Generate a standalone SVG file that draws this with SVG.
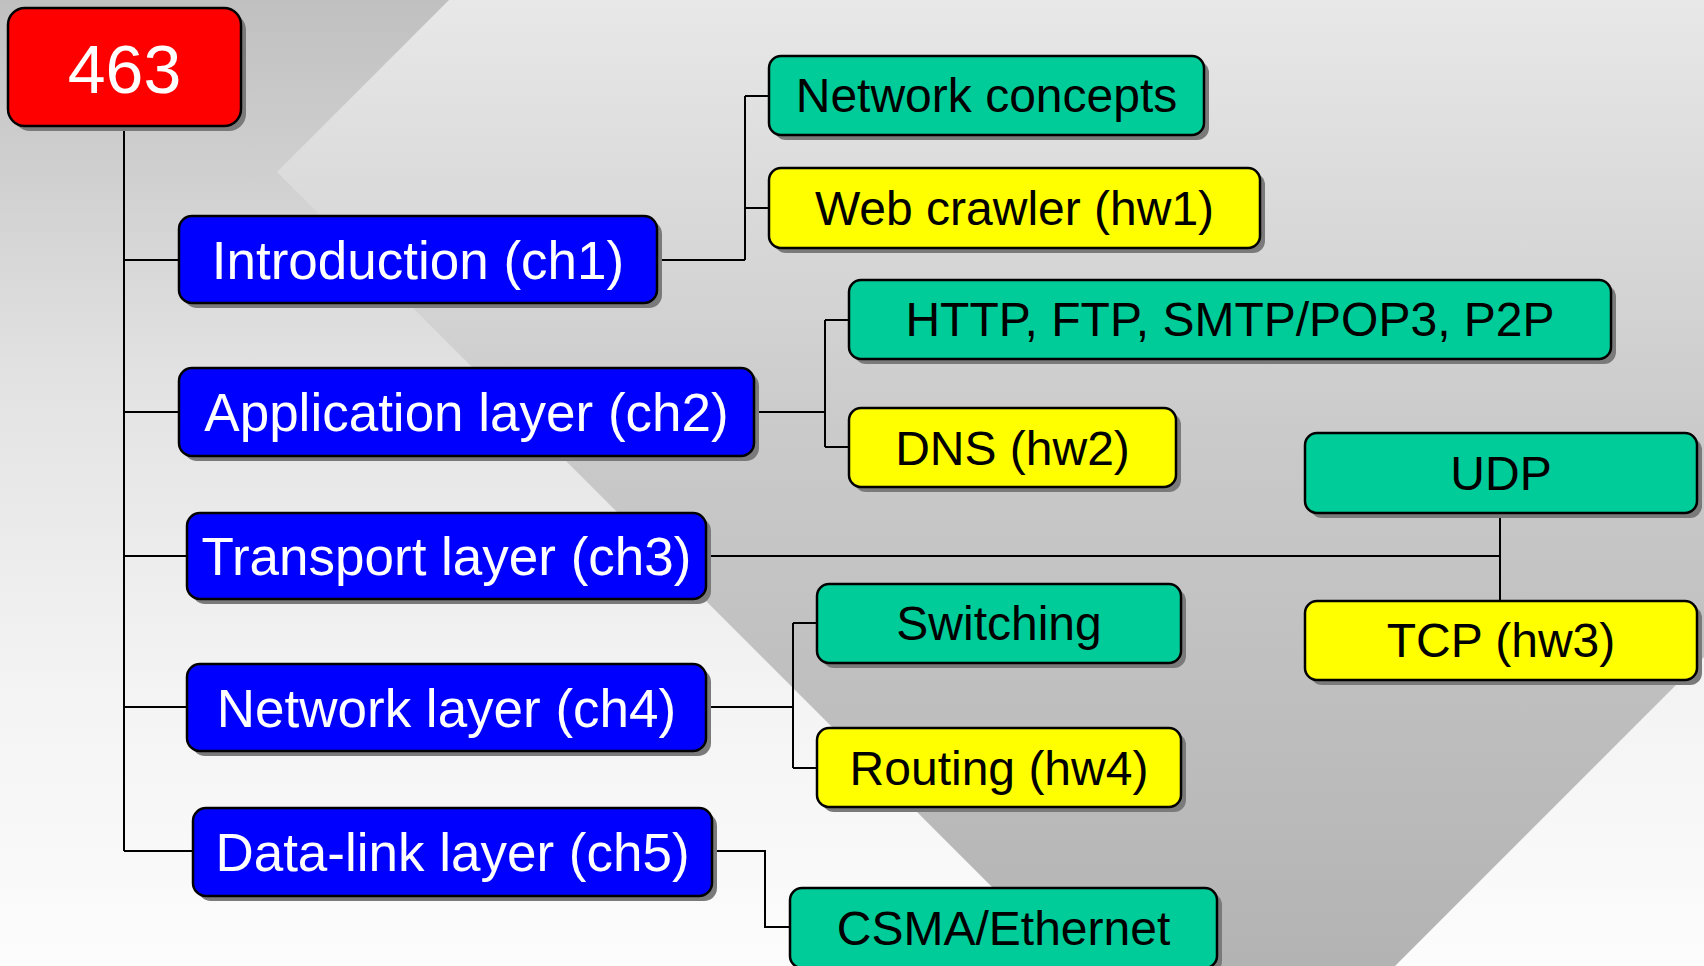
<svg xmlns="http://www.w3.org/2000/svg" width="1704" height="966" viewBox="0 0 1704 966">
<defs>
<linearGradient id="bgOut" x1="0" y1="0" x2="0" y2="966" gradientUnits="userSpaceOnUse">
<stop offset="0" stop-color="#c0c0c0"/>
<stop offset="0.4" stop-color="#e3e3e3"/>
<stop offset="0.7" stop-color="#f3f3f3"/>
<stop offset="1" stop-color="#fcfcfc"/>
</linearGradient>
<linearGradient id="bgIn" x1="0" y1="0" x2="0" y2="966" gradientUnits="userSpaceOnUse">
<stop offset="0" stop-color="#e8e8e8"/>
<stop offset="0.45" stop-color="#cacaca"/>
<stop offset="1" stop-color="#b3b3b3"/>
</linearGradient>
<style>
.conn{fill:none;stroke:#000;stroke-width:2}
.sh{fill:#7a7a7a}
.box{stroke:#000;stroke-width:2.5}
.red{fill:#ff0000}
.blue{fill:#0000ff}
.green{fill:#00cc99}
.yellow{fill:#ffff00}
.t{font-family:"Liberation Sans",Arial,sans-serif;text-anchor:middle}
.tw{fill:#fff;font-size:53px}
.tb{fill:#000;font-size:48px}
.troot{fill:#fff;font-size:68px}
</style>
</defs>
<rect x="0" y="0" width="1704" height="966" fill="url(#bgOut)"/>
<polygon points="449,0 277,172 1071,966 1395,966 1704,657 1704,0" fill="url(#bgIn)"/>

<g id="connectors">
<path class="conn" d="M124 126 V851 M124 260 H179 M124 412 H179 M124 556 H187 M124 707 H187 M124 851 H193"/>
<path class="conn" d="M657 260 H745 M745 96 V260 M745 96 H769 M745 208 H769"/>
<path class="conn" d="M754 412 H825 M825 320 V447 M825 320 H849 M825 447 H849"/>
<path class="conn" d="M706 556 H1500 M1500 513 V601"/>
<path class="conn" d="M706 707 H793 M793 623 V768 M793 623 H817 M793 768 H817"/>
<path class="conn" d="M712 851 H765 V927 H790"/>
</g>

<g id="root">
<rect class="sh" x="13" y="13" width="233" height="118" rx="17"/>
<rect class="box red" x="8" y="8" width="233" height="118" rx="17"/>
<text class="t troot" x="124.5" y="93">463</text>
</g>

<g id="intro">
<rect class="sh" x="184" y="221" width="478" height="87" rx="13"/>
<rect class="box blue" x="179" y="216" width="478" height="87" rx="13"/>
<text class="t tw" x="418" y="279">Introduction (ch1)</text>
</g>
<g id="app">
<rect class="sh" x="184" y="373" width="575" height="88" rx="13"/>
<rect class="box blue" x="179" y="368" width="575" height="88" rx="13"/>
<text class="t tw" x="466.5" y="431">Application layer (ch2)</text>
</g>
<g id="transport">
<rect class="sh" x="192" y="518" width="519" height="86" rx="13"/>
<rect class="box blue" x="187" y="513" width="519" height="86" rx="13"/>
<text class="t tw" x="446.5" y="575">Transport layer (ch3)</text>
</g>
<g id="network">
<rect class="sh" x="192" y="669" width="519" height="87" rx="13"/>
<rect class="box blue" x="187" y="664" width="519" height="87" rx="13"/>
<text class="t tw" x="446.5" y="727">Network layer (ch4)</text>
</g>
<g id="datalink">
<rect class="sh" x="198" y="813" width="519" height="88" rx="13"/>
<rect class="box blue" x="193" y="808" width="519" height="88" rx="13"/>
<text class="t tw" x="452.5" y="871">Data-link layer (ch5)</text>
</g>

<g id="netconcepts">
<rect class="sh" x="774" y="61" width="435" height="79" rx="12"/>
<rect class="box green" x="769" y="56" width="435" height="79" rx="12"/>
<text class="t tb" x="986.5" y="112">Network concepts</text>
</g>
<g id="webcrawler">
<rect class="sh" x="774" y="173" width="491" height="80" rx="12"/>
<rect class="box yellow" x="769" y="168" width="491" height="80" rx="12"/>
<text class="t tb" x="1014.5" y="225">Web crawler (hw1)</text>
</g>
<g id="http">
<rect class="sh" x="854" y="285" width="762" height="79" rx="12"/>
<rect class="box green" x="849" y="280" width="762" height="79" rx="12"/>
<text class="t tb" x="1230" y="336">HTTP, FTP, SMTP/POP3, P2P</text>
</g>
<g id="dns">
<rect class="sh" x="854" y="413" width="327" height="79" rx="12"/>
<rect class="box yellow" x="849" y="408" width="327" height="79" rx="12"/>
<text class="t tb" x="1012.5" y="465">DNS (hw2)</text>
</g>
<g id="udp">
<rect class="sh" x="1310" y="438" width="392" height="80" rx="12"/>
<rect class="box green" x="1305" y="433" width="392" height="80" rx="12"/>
<text class="t tb" x="1501" y="490">UDP</text>
</g>
<g id="tcp">
<rect class="sh" x="1310" y="606" width="392" height="79" rx="12"/>
<rect class="box yellow" x="1305" y="601" width="392" height="79" rx="12"/>
<text class="t tb" x="1501" y="657">TCP (hw3)</text>
</g>
<g id="switching">
<rect class="sh" x="822" y="589" width="364" height="79" rx="12"/>
<rect class="box green" x="817" y="584" width="364" height="79" rx="12"/>
<text class="t tb" x="999" y="640">Switching</text>
</g>
<g id="routing">
<rect class="sh" x="822" y="733" width="364" height="79" rx="12"/>
<rect class="box yellow" x="817" y="728" width="364" height="79" rx="12"/>
<text class="t tb" x="999" y="785">Routing (hw4)</text>
</g>
<g id="csma">
<rect class="sh" x="795" y="893" width="427" height="80" rx="12"/>
<rect class="box green" x="790" y="888" width="427" height="80" rx="12"/>
<text class="t tb" x="1003.5" y="945">CSMA/Ethernet</text>
</g>
</svg>
